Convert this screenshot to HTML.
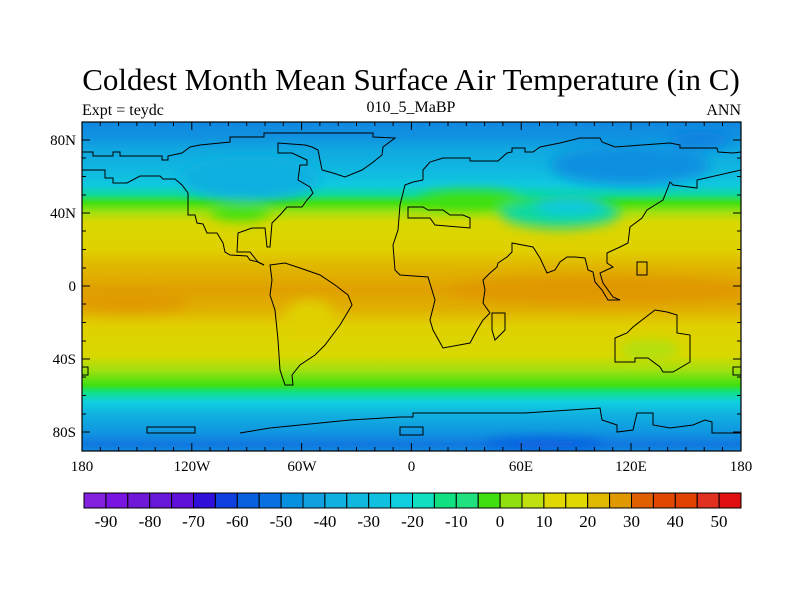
<!DOCTYPE html>
<html><head><meta charset="utf-8"><style>
body{margin:0;background:#fff;}
svg{display:block;font-family:"Liberation Serif",serif;}
</style></head><body>
<svg width="800" height="600" viewBox="0 0 800 600" xmlns="http://www.w3.org/2000/svg">
<defs>
<linearGradient id="g" x1="0" y1="0" x2="0" y2="1">
<stop offset="0" stop-color="#1088e0"/>
<stop offset=".04" stop-color="#1090e0"/>
<stop offset=".085" stop-color="#10a8e0"/>
<stop offset=".146" stop-color="#10b8e0"/>
<stop offset=".19" stop-color="#10c8e0"/>
<stop offset=".22" stop-color="#10d8a0"/>
<stop offset=".246" stop-color="#40e010"/>
<stop offset=".274" stop-color="#a0e010"/>
<stop offset=".304" stop-color="#d8d800"/>
<stop offset=".39" stop-color="#e0d000"/>
<stop offset=".435" stop-color="#e0b800"/>
<stop offset=".51" stop-color="#e0a000"/>
<stop offset=".57" stop-color="#e0b000"/>
<stop offset=".62" stop-color="#e0d000"/>
<stop offset=".71" stop-color="#d8d800"/>
<stop offset=".755" stop-color="#a0e010"/>
<stop offset=".8" stop-color="#40e010"/>
<stop offset=".82" stop-color="#10e080"/>
<stop offset=".85" stop-color="#10d0e0"/>
<stop offset=".89" stop-color="#10b0e0"/>
<stop offset=".94" stop-color="#1098e0"/>
<stop offset=".98" stop-color="#1078e0"/>
<stop offset="1" stop-color="#1088e0"/>
</linearGradient>
<filter id="b" x="-50%" y="-50%" width="200%" height="200%"><feGaussianBlur stdDeviation="6"/></filter>
<clipPath id="c"><rect x="82" y="122" width="659" height="329"/></clipPath>
</defs>
<text x="411" y="90" font-size="31" text-anchor="middle">Coldest Month Mean Surface Air Temperature (in C)</text>
<text x="82" y="115" font-size="16">Expt = teydc</text>
<text x="411" y="112" font-size="16" text-anchor="middle">010_5_MaBP</text>
<text x="741" y="115" font-size="16" text-anchor="end">ANN</text>
<g clip-path="url(#c)">
<rect x="82" y="122" width="659" height="329" fill="url(#g)"/>
<g filter="url(#b)">
<ellipse cx="630" cy="165" rx="80" ry="20" fill="#1090e0"/>
<ellipse cx="560" cy="212" rx="60" ry="16" fill="#10d8a0"/>
<ellipse cx="570" cy="205" rx="35" ry="10" fill="#10c8e0"/>
<ellipse cx="470" cy="200" rx="50" ry="9" fill="#40e010"/>
<ellipse cx="250" cy="178" rx="70" ry="22" fill="#10b0e0"/>
<ellipse cx="240" cy="212" rx="30" ry="9" fill="#40e010"/>
<ellipse cx="600" cy="290" rx="150" ry="14" fill="#e09800"/>
<ellipse cx="130" cy="302" rx="60" ry="9" fill="#e09800"/>
<ellipse cx="310" cy="318" rx="25" ry="18" fill="#e0d000"/>
<ellipse cx="650" cy="350" rx="30" ry="10" fill="#b0e010"/>
<ellipse cx="545" cy="444" rx="60" ry="5" fill="#0858e0"/>
<ellipse cx="700" cy="140" rx="30" ry="8" fill="#1080e0"/>
</g>
<g fill="none" stroke="#000" stroke-width="1">
<polyline points="82,152 93,152 93,156 113,156 113,152 120,152 120,156 162,156 162,160 168,160 168,156 182,153 190,147 200,145 230,142 230,137 264,137 264,133 373,133 373,137 395,138 383,147 382,155 372,163 362,170 345,177 333,173 322,170 318,150 312,147 305,145 278,143 278,153 292,153 307,160 307,165 300,165 298,180 310,187 313,193 307,200 302,207 287,207 280,215 272,223 270,247 267,247 265,228 252,228 238,233 237,252 250,252 258,262 264,265"/>
<polyline points="82,170 105,170 105,178 113,178 113,183 127,183 140,176 160,176 163,179 175,179 182,185 188,193 188,215 195,215 197,223 203,224 207,233 217,233 223,243 225,252 230,255 247,256 250,260 258,262 264,265"/>
<polygon points="270,265 285,263 300,268 320,275 335,285 348,295 352,305 340,325 325,345 315,355 300,365 292,375 293,385 285,385 280,370 278,340 275,310 270,295 272,280"/>
<polyline points="423,180 423,170 430,162 443,158 470,158 470,161 498,161 507,153 512,152 512,148 525,148 525,152 533,152 540,147 560,143 580,138 600,138 602,142 615,147 670,143 680,145 680,148 717,148 718,152 733,153 741,152"/>
<polyline points="741,170 697,180 697,188 673,185 670,182 667,190 663,200 647,210 642,218 630,227 628,243 620,247 607,253 607,263 613,267 600,273 603,283 613,297 620,300 608,300 602,290 595,282 593,272 588,270 585,258 575,257 567,257 560,262 555,270 547,273 540,258 533,247 512,243 512,252 507,257 498,263 497,267 490,273 483,280 485,290 483,303 490,313 483,320 477,330 470,343 443,348 433,330 430,320 435,300 428,277 400,275 395,270 393,245 398,230 400,205 405,185 413,182 423,180"/>
<polygon points="408,207 408,218 430,218 435,225 470,228 470,218 463,215 450,215 443,210 428,210 423,207"/>
<polygon points="492,313 505,313 505,330 495,340 492,330"/>
<polygon points="655,310 667,312 677,315 677,333 690,335 690,362 673,372 663,372 660,367 648,358 635,358 635,362 615,362 615,338 627,333 633,327 642,320"/>
<polygon points="637,262 647,262 647,275 637,275"/>
<polyline points="240,433 270,428 350,420 400,417 413,417 413,413 525,413 600,408 602,420 617,425 617,432 633,430 637,413 653,413 653,425 670,428 693,425 705,420 712,422 712,433 733,433 741,433"/>
<polygon points="147,427 195,427 195,433 147,433"/>
<polygon points="400,427 423,427 423,435 400,435"/>
<polygon points="741,367 733,367 733,375 741,375"/>
<polygon points="82,367 88,367 88,375 82,375"/>
</g>
</g>
<rect x="82" y="122" width="659" height="329" fill="none" stroke="#000" stroke-width="1.2"/>
<g stroke="#000" stroke-width="1">
<path d="M82,122v4M100.3,122v4M118.6,122v4M136.9,122v4M155.2,122v4M173.5,122v4M191.8,122v8M210.1,122v4M228.4,122v4M246.7,122v4M265,122v4M283.3,122v4M301.6,122v8M319.9,122v4M338.2,122v4M356.5,122v4M374.8,122v4M393.1,122v4M411.4,122v8M429.7,122v4M448,122v4M466.3,122v4M484.6,122v4M502.9,122v4M521.2,122v8M539.5,122v4M557.8,122v4M576.1,122v4M594.4,122v4M612.7,122v4M631,122v8M649.3,122v4M667.6,122v4M685.9,122v4M704.2,122v4M722.5,122v4"/>
<path d="M100.3,451v-4M118.6,451v-4M136.9,451v-4M155.2,451v-4M173.5,451v-4M191.8,451v-8M210.1,451v-4M228.4,451v-4M246.7,451v-4M265,451v-4M283.3,451v-4M301.6,451v-8M319.9,451v-4M338.2,451v-4M356.5,451v-4M374.8,451v-4M393.1,451v-4M411.4,451v-8M429.7,451v-4M448,451v-4M466.3,451v-4M484.6,451v-4M502.9,451v-4M521.2,451v-8M539.5,451v-4M557.8,451v-4M576.1,451v-4M594.4,451v-4M612.7,451v-4M631,451v-8M649.3,451v-4M667.6,451v-4M685.9,451v-4M704.2,451v-4M722.5,451v-4"/>
<path d="M82,140h8M82,158h4M82,176.5h4M82,195h4M82,213h8M82,231h4M82,249.5h4M82,268h4M82,286h8M82,304h4M82,322.5h4M82,341h4M82,359h8M82,377h4M82,395.5h4M82,414h4M82,432h8"/>
<path d="M741,140h-8M741,158h-4M741,176.5h-4M741,195h-4M741,213h-8M741,231h-4M741,249.5h-4M741,268h-4M741,286h-8M741,304h-4M741,322.5h-4M741,341h-4M741,359h-8M741,377h-4M741,395.5h-4M741,414h-4M741,432h-8"/>
</g>
<g font-size="15">
<g text-anchor="end">
<text x="76" y="145">80N</text><text x="76" y="218">40N</text><text x="76" y="291">0</text><text x="76" y="364">40S</text><text x="76" y="437">80S</text>
</g>
<g text-anchor="middle">
<text x="82" y="471">180</text><text x="192" y="471">120W</text><text x="302" y="471">60W</text><text x="411.5" y="471">0</text><text x="521" y="471">60E</text><text x="631" y="471">120E</text><text x="741" y="471">180</text>
</g>
</g>
<g stroke="#000" stroke-width="1">
<rect x="84" y="493" width="21.9" height="15" fill="#8420e0"/>
<rect x="105.9" y="493" width="21.9" height="15" fill="#7a14e0"/>
<rect x="127.8" y="493" width="21.9" height="15" fill="#7018d8"/>
<rect x="149.7" y="493" width="21.9" height="15" fill="#6818d8"/>
<rect x="171.6" y="493" width="21.9" height="15" fill="#6010d8"/>
<rect x="193.5" y="493" width="21.9" height="15" fill="#3010d8"/>
<rect x="215.4" y="493" width="21.9" height="15" fill="#1040e0"/>
<rect x="237.3" y="493" width="21.9" height="15" fill="#0860e0"/>
<rect x="259.2" y="493" width="21.9" height="15" fill="#0870e0"/>
<rect x="281.1" y="493" width="21.9" height="15" fill="#0890e0"/>
<rect x="303" y="493" width="21.9" height="15" fill="#10a0e0"/>
<rect x="324.9" y="493" width="21.9" height="15" fill="#10b0e0"/>
<rect x="346.8" y="493" width="21.9" height="15" fill="#10b8e0"/>
<rect x="368.7" y="493" width="21.9" height="15" fill="#10c0e0"/>
<rect x="390.6" y="493" width="21.9" height="15" fill="#10d0e0"/>
<rect x="412.5" y="493" width="21.9" height="15" fill="#10e0c0"/>
<rect x="434.4" y="493" width="21.9" height="15" fill="#10e080"/>
<rect x="456.3" y="493" width="21.9" height="15" fill="#20e080"/>
<rect x="478.2" y="493" width="21.9" height="15" fill="#40e010"/>
<rect x="500.1" y="493" width="21.9" height="15" fill="#90e010"/>
<rect x="522" y="493" width="21.9" height="15" fill="#c0e010"/>
<rect x="543.9" y="493" width="21.9" height="15" fill="#e0d800"/>
<rect x="565.8" y="493" width="21.9" height="15" fill="#e0d800"/>
<rect x="587.7" y="493" width="21.9" height="15" fill="#e0b800"/>
<rect x="609.6" y="493" width="21.9" height="15" fill="#e09800"/>
<rect x="631.5" y="493" width="21.9" height="15" fill="#e06000"/>
<rect x="653.4" y="493" width="21.9" height="15" fill="#e04800"/>
<rect x="675.3" y="493" width="21.9" height="15" fill="#e04000"/>
<rect x="697.2" y="493" width="21.9" height="15" fill="#e03020"/>
<rect x="719.1" y="493" width="21.9" height="15" fill="#e01010"/>
</g>
<g font-size="17" text-anchor="middle">
<text x="106" y="527">-90</text><text x="150" y="527">-80</text><text x="193.5" y="527">-70</text><text x="237.3" y="527">-60</text><text x="281" y="527">-50</text><text x="325" y="527">-40</text><text x="368.7" y="527">-30</text><text x="412.5" y="527">-20</text><text x="456.3" y="527">-10</text><text x="500" y="527">0</text><text x="544" y="527">10</text><text x="587.7" y="527">20</text><text x="631.5" y="527">30</text><text x="675.3" y="527">40</text><text x="719" y="527">50</text>
</g>
</svg>
</body></html>
